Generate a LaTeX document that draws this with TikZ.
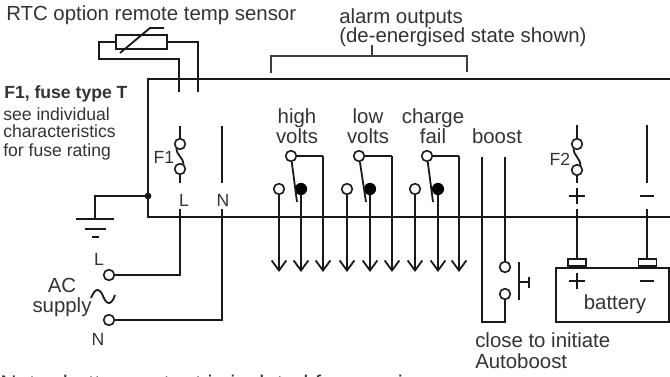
\documentclass[tikz,border=0pt]{standalone}
\usepackage{fontspec}
\setmainfont{Liberation Sans}
\usetikzlibrary{calc, arrows.meta}

\definecolor{inkwire}{gray}{0.1}
\definecolor{inktext}{gray}{0.2}

\tikzset{
    wire/.style={line width=1.35pt, inkwire},
    thinwire/.style={line width=1pt, inkwire!85},
    term/.style={circle, draw=inkwire, line width=1.2pt, fill=white, minimum size=8pt, inner sep=0pt},
    relaydot/.style={circle, fill=black, minimum size=9.2pt, inner sep=0pt},
    lbl/.style={inner sep=0pt, text=inktext, font=\fontsize{15.3}{17}\selectfont},
    lblsmall/.style={inner sep=0pt, text=inktext, font=\fontsize{13.2}{15}\selectfont},
    postbox/.style={draw=inkwire, line width=1.35pt, minimum width=13.5pt, minimum height=5.25pt, inner sep=0pt, anchor=south},
    downarrow/.style={wire, -{Straight Barb[length=7.5pt,width=11pt,line width=1.35pt]}}
}

\begin{document}
\begin{tikzpicture}[x=0.75pt,y=0.75pt]
    \useasboundingbox (0,0) rectangle (670,376);
    \coordinate (TL) at (148,297);
    \coordinate (TR) at (670,297);
    \coordinate (BL) at (148,159);
    \coordinate (BR) at (670,159);

    % enclosure
    \draw[wire] (TR) -- (TL) -- (BL) -- (BR);

    % top texts
    \node[lbl, anchor=base west] (rtc) at (6,355) {RTC option remote temp sensor};
    \node[lbl, anchor=base west] (alarm) at (339,353) {alarm outputs};
    \node[lbl, anchor=base west] (deen) at (339,334) {(de-energised state shown)};
    \node[lblsmall, anchor=base west, font=\fontsize{13.2}{15}\selectfont\bfseries] (fusetype) at (4,278) {F1, fuse type T};
    \node[lblsmall, anchor=base west] (see) at (3,256) {see individual};
    \node[lblsmall, anchor=base west] (charac) at (3,239) {characteristics};
    \node[lblsmall, anchor=base west] (forfuse) at (3,220) {for fuse rating};
    \node[lbl, anchor=base west, font=\fontsize{17}{19}\selectfont] (note) at (0,-15) {Note: battery output is isolated from mains};

    % alarm bracket
    \coordinate (brA) at (271,303);
    \coordinate (brB) at (271,320);
    \coordinate (brC) at (467,320);
    \coordinate (brD) at (467,304);
    \coordinate (brE) at (372,320);
    \coordinate (brF) at (372,331);
    \draw[thinwire] (brA) -- (brB) -- (brC) -- (brD);
    \draw[thinwire] (brE) -- (brF);

    % thermistor
    \node[draw=inkwire, line width=1.35pt, minimum width=38pt, minimum height=11pt, inner sep=0pt] (therm) at (141.5,334) {};
    \coordinate (thA) at (99,334);
    \coordinate (thB) at (99,317);
    \coordinate (thC) at (179,317);
    \coordinate (thD) at (179,284);
    \coordinate (thE) at (198,334);
    \coordinate (thF) at (198,284);
    \coordinate (slA) at (120,323);
    \coordinate (slB) at (150,348);
    \coordinate (slC) at (164,348);
    \draw[wire] (therm.west) -- (thA) -- (thB) -- (thC) -- (thD);
    \draw[wire] (therm.east) -- (thE) -- (thF);
    \draw[wire] (slA) -- (slB) -- (slC);

    % F1 and mains
    \coordinate (fA) at (180,250);
    \coordinate (fB) at (180,193);
    \node[term] (fC) at (180,232) {};
    \node[term] (fD) at (180,207) {};
    \draw[wire] (fA) -- (fC);
    \draw[wire] (fD) -- (fB);
    \draw[wire] (fC.235) .. controls (176,222) and (184,217) .. (fD.55);
    \node[lblsmall, anchor=base] (fOne) at (164,213) {F1};
    \node[lblsmall, anchor=base] (lIn) at (184,170) {L};
    \node[lblsmall, anchor=base] (nIn) at (223,170) {N};
    \coordinate (nA) at (222,250);
    \coordinate (nB) at (222,193);
    \draw[wire] (nA) -- (nB);

    % earth
    \coordinate (ea) at (148,180);
    \coordinate (eb) at (95,180);
    \coordinate (ec) at (95,157);
    \coordinate (eda) at (76,157);
    \coordinate (edb) at (114,157);
    \coordinate (eea) at (85,147);
    \coordinate (eeb) at (106,147);
    \coordinate (efa) at (92,139);
    \coordinate (efb) at (99,139);
    \fill[inkwire] (ea) circle (3.4);
    \draw[wire] (ea) -- (eb) -- (ec);
    \draw[wire] (eda) -- (edb);
    \draw[wire] (eea) -- (eeb);
    \draw[wire] (efa) -- (efb);

    % AC supply
    \node[term] (acL) at (109,101) {};
    \node[term] (acN) at (109,56) {};
    \coordinate (acLa) at (180,101);
    \coordinate (acLb) at (180,167);
    \coordinate (acNa) at (222,56);
    \coordinate (acNb) at (222,167);
    \draw[wire] (acL) -- (acLa) -- (acLb);
    \draw[wire] (acN) -- (acNa) -- (acNb);
    \draw[wire] (91,78) .. controls (96,90) and (100,87) .. (103,80) .. controls (106,72) and (111,69) .. (115,81);
    \node[lblsmall, anchor=base] (lOut) at (99,111) {L};
    \node[lblsmall, anchor=base] (nOut) at (98,31) {N};
    \node[lbl, anchor=base] (acT) at (62,84) {AC};
    \node[lbl, anchor=base] (supT) at (62,64) {supply};

    % relays
    \foreach \n/\x/\xa/\xb/\xc/\xd/\la/\lb/\xl in {
        hi/291/279/301/297/323/high/volts/297,
        lo/359/347/370/366/392/low/volts/368,
        ch/427/415/438/433/459/charge/fail/433}{
        \node[lbl, anchor=base] (top\n) at (\xl,253) {\la};
        \node[lbl, anchor=base] (bot\n) at (\xl,233) {\lb};
        \node[term] (com\n) at (\x,220) {};
        \node[term] (no\n) at (\xa,187) {};
        \node[relaydot] (nc\n) at (\xb,187) {};
        \coordinate (blade\n) at (\xc,174);
        \coordinate (corner\n) at (\xd,220);
        \coordinate (endno\n) at (\xa,104);
        \coordinate (endnc\n) at (\xb,104);
        \coordinate (endcom\n) at (\xd,104);
        \draw[wire] (com\n) -- (blade\n);
        \draw[wire] (com\n) -- (corner\n);
        \draw[downarrow] (corner\n) -- (endcom\n);
        \draw[downarrow] (no\n) -- (endno\n);
        \draw[downarrow] (nc\n) -- (endnc\n);
    }

    % boost
    \node[lbl, anchor=base] (boostT) at (497,233) {boost};
    \coordinate (boA) at (482,219);
    \coordinate (boB) at (482,54);
    \coordinate (boC) at (505,54);
    \coordinate (boD) at (505,219);
    \node[term] (swA) at (505,109) {};
    \node[term] (swB) at (505,82) {};
    \draw[wire] (boA) -- (boB) -- (boC) -- (swB);
    \draw[wire] (boD) -- (swA);
    \coordinate (puA) at (519,114);
    \coordinate (puB) at (519,76);
    \coordinate (puC) at (519,94);
    \coordinate (puD) at (529,94);
    \coordinate (puE) at (529,99);
    \coordinate (puF) at (529,88);
    \draw[wire] (puA) -- (puB);
    \draw[wire] (puC) -- (puD);
    \draw[wire] (puE) -- (puF);
    \node[lbl, anchor=base west] (closeT) at (475,29) {close to initiate};
    \node[lbl, anchor=base west] (autoT) at (475,8) {Autoboost};

    % F2 and negative
    \coordinate (gA) at (577,251);
    \coordinate (gB) at (577,193);
    \node[term] (gC) at (577,232) {};
    \node[term] (gD) at (577,206) {};
    \draw[wire] (gA) -- (gC);
    \draw[wire] (gD) -- (gB);
    \draw[wire] (gC.235) .. controls (573,222) and (581,216) .. (gD.55);
    \node[lblsmall, anchor=base] (fTwo) at (560,211) {F2};
    \coordinate (mA) at (647,251);
    \coordinate (mB) at (647,193);
    \draw[wire] (mA) -- (mB);

    % plus and minus at the box
    \coordinate (pt) at (577,180);
    \coordinate (mt) at (647,180);
    \draw[wire] ($(pt)+(-8,0)$) -- ($(pt)+(8,0)$);
    \draw[wire] ($(pt)+(0,-8)$) -- ($(pt)+(0,8)$);
    \draw[wire] ($(mt)+(-7,0)$) -- ($(mt)+(7,0)$);

    % battery
    \node[draw=inkwire, line width=1.35pt, minimum width=84.75pt, minimum height=40.5pt, inner sep=0pt, anchor=north west] (batt) at (555,109) {};
    \node[postbox] (pPost) at (577,109) {};
    \node[postbox] (mPost) at (647.5,109) {};
    \coordinate (pw) at (577,167);
    \coordinate (mw) at (647,167);
    \draw[wire] (pw) -- (pPost.north -| pw);
    \draw[wire] (mw) -- (mPost.north -| mw);
    \coordinate (pb) at (577,95);
    \coordinate (mb) at (647,95);
    \draw[wire] ($(pb)+(-8,0)$) -- ($(pb)+(8,0)$);
    \draw[wire] ($(pb)+(0,-8)$) -- ($(pb)+(0,8)$);
    \draw[wire] ($(mb)+(-7,0)$) -- ($(mb)+(7,0)$);
    \node[lbl, anchor=base] (battT) at (615,67) {battery};
\end{tikzpicture}
\end{document}
